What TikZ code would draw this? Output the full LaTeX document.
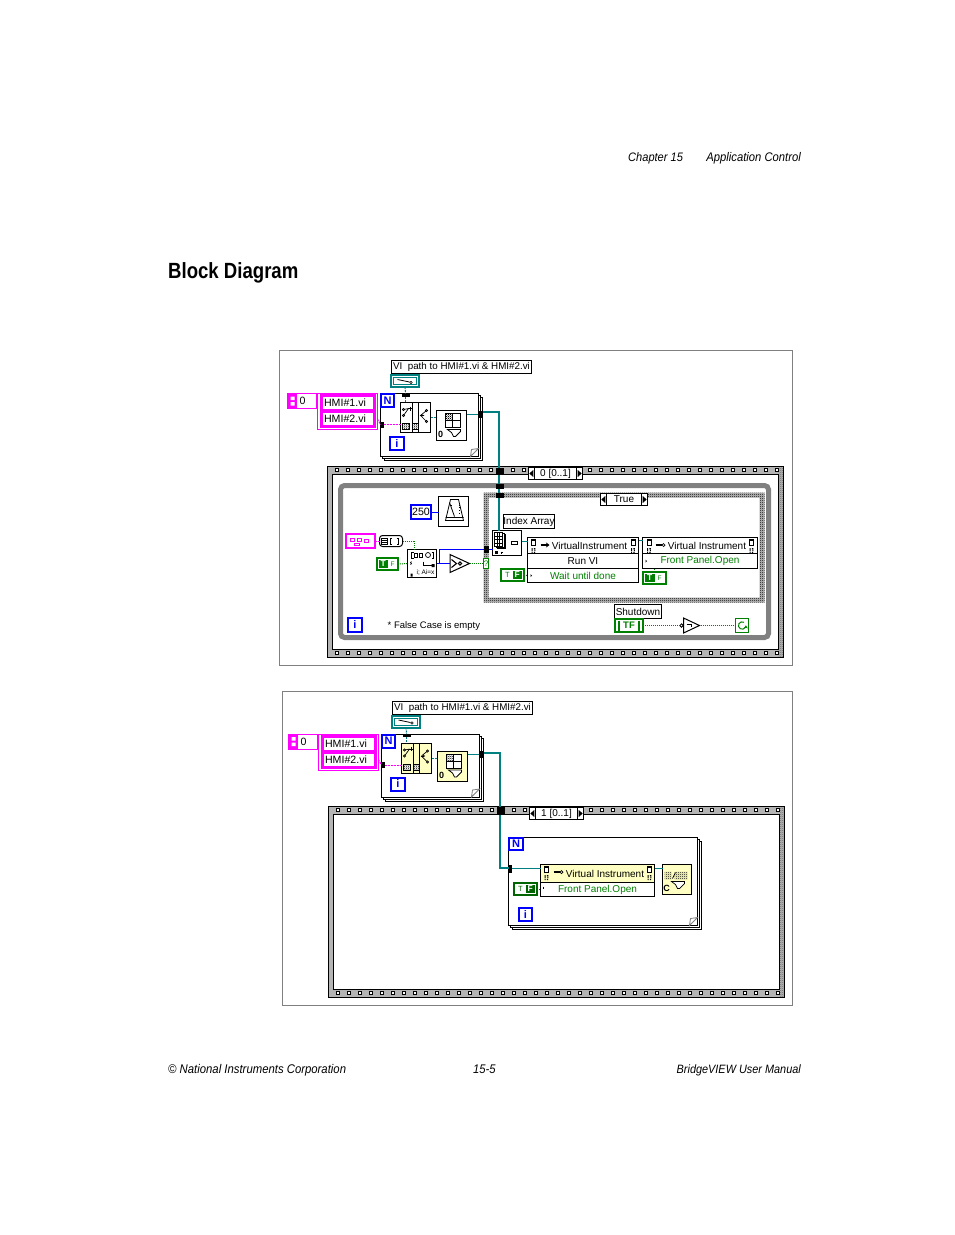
\documentclass[tikz,border=0pt]{standalone}
\usepackage{fontspec}
\setmainfont{Liberation Sans}
\newfontfamily\pagefont[FakeStretch=0.9]{Liberation Sans}
\newfontfamily\headfont[FakeStretch=0.845]{Liberation Sans}
\usetikzlibrary{patterns,arrows.meta}
\pgfdeclarepatternformonly{checker}{\pgfqpoint{0pt}{0pt}}{\pgfqpoint{2pt}{2pt}}{\pgfqpoint{2pt}{2pt}}{%
 \pgfpathrectangle{\pgfqpoint{0pt}{0pt}}{\pgfqpoint{1pt}{1pt}}%
 \pgfpathrectangle{\pgfqpoint{1pt}{1pt}}{\pgfqpoint{1pt}{1pt}}%
 \pgfusepath{fill}}
\definecolor{lvmag}{HTML}{FF00FF}
\definecolor{lvblue}{HTML}{0000FF}
\definecolor{lvteal}{HTML}{008080}
\definecolor{lvgreen}{HTML}{008000}
\definecolor{lvdark}{HTML}{006400}
\definecolor{lvgray}{HTML}{808080}
\definecolor{lvframe}{HTML}{B4B4B4}
\definecolor{lvyellow}{HTML}{FFFFC4}
\tikzset{
 lvfont/.style={font=\fontsize{10}{12}\selectfont},
 lab/.style={draw=black,fill=white,line width=1pt,lvfont},
 plain/.style={draw=black,fill=white,line width=1pt},
 hmi/.style={draw=lvmag,fill=white,line width=3pt,font=\fontsize{10.6}{12}\selectfont},
 magout/.style={draw=lvmag,fill=white,line width=1pt},
 loopb/.style={draw=black,fill=white,line width=1pt},
 termN/.style={draw=lvblue,fill=white,line width=2pt,text=lvblue,font=\bfseries\fontsize{11}{12}\selectfont},
 pagetxt/.style={inner sep=0pt,anchor=base},
 tealthick/.style={draw=lvteal,line width=2pt},
 tealthin/.style={draw=lvteal,line width=1pt},
 bluew/.style={draw=lvblue,line width=1pt},
 dotw/.style={draw=lvgreen,line width=1pt,dash pattern=on 1pt off 1pt},
 magw/.style={draw=lvmag,line width=1pt,dash pattern=on 2pt off 1pt},
 tun/.style={fill=black,draw=none},
 hollow/.style={draw=none,fill=none},
}
\newcommand{\bx}[7][]{%
 \pgfmathsetmacro{\bxw}{(#5)-(#3)}\pgfmathsetmacro{\bxh}{(#6)-(#4)}%
 \node[#1,inner sep=0pt,outer sep=0pt,minimum width=\bxw pt,minimum height=\bxh pt] (#2) at ({((#3)+(#5))/2},{((#4)+(#6))/2}) {#7};}
% film strip sequence frame
\newcommand{\seqframe}[6]{%
 \fill[lvframe] (#2,#3) rectangle (#4,#5);
 \path[pattern=checker,pattern color=black!55] ({#4-5},#3) rectangle (#4,#5);
 \draw[black,line width=1pt] (#2,#3) rectangle (#4,#5);
 \bx[plain]{#1}{#2+5}{#3+8}{#4-5}{#5-8}{}
 \foreach \k in {0,...,40}{%
  \draw[black,fill=white,line width=1pt] ({#2+8+11*\k},{#3+2}) rectangle ++(3,3);
  \draw[black,fill=white,line width=1pt] ({#2+8+11*\k},{#5-6}) rectangle ++(3,3);
 }
 \bx[lab]{#1sel}{#2+201}{#3+1}{#2+255}{#3+13}{#6}
 \fill ({#2+201.8},{#3+7}) -- ++(4,-3.5) -- ++(0,7) -- cycle;
 \fill ({#2+254.2},{#3+7}) -- ++(-4,-3.5) -- ++(0,7) -- cycle;
 \draw[line width=1pt] ({#2+207},{#3+1}) -- ++(0,12) ({#2+249},{#3+1}) -- ++(0,12);
}
% stacked for loop
\newcommand{\forloop}[5]{%
 \draw[loopb] ({#2+4},{#3+4}) rectangle ({#4+4},{#5+4});
 \draw[loopb] ({#2+2},{#3+2}) rectangle ({#4+2},{#5+2});
 \bx[loopb]{#1}{#2}{#3}{#4}{#5}{}
 \draw[lvgray,line width=.8pt,fill=white] ({#4-8},#5) -- ({#4-7},{#5-7}) -- (#4,{#5-8}) -- cycle;
}
\newcommand{\errpage}[2]{%
 \draw[line width=.6pt,fill=white] (#1,#2) rectangle ++(4,5.5);
 \fill (#1,#2) rectangle ++(4,1.6);
 \fill (#1,{#2+8.5}) rectangle ++(1.2,3) (#1,{#2+12.4}) rectangle ++(1.2,1.2);
 \fill ({#1+2.4},{#2+8.5}) rectangle ++(1.4,1.4) ({#1+2.8},{#2+10.4}) rectangle ++(1,1.2) ({#1+2.4},{#2+12.4}) rectangle ++(1.2,1.2);
}
\newcommand{\boolT}[6]{% name x1 y1 x2 y2 colour
 \bx[draw=#6,fill=white,line width=2pt]{#1}{#2}{#3}{#4}{#5}{}
 \pgfmathsetmacro{\bm}{(#2+#4)/2}
 \bx[fill=#6,text=white,font=\bfseries\fontsize{8.5}{9}\selectfont]{#1t}{#2+2}{#3+2}{\bm}{#5-2}{T}
 \node[inner sep=0pt,text=#6,font=\fontsize{6.5}{7}\selectfont] (#1f) at ({\bm+5},{(#3+#5)/2}) {F};
}
\newcommand{\boolF}[6]{%
 \bx[draw=#6,fill=white,line width=2pt]{#1}{#2}{#3}{#4}{#5}{}
 \pgfmathsetmacro{\bm}{(#2+#4)/2}
 \bx[fill=#6,text=white,font=\bfseries\fontsize{8.5}{9}\selectfont]{#1f}{\bm}{#3+2}{#4-2}{#5-2}{F}
 \node[inner sep=0pt,text=#6,font=\fontsize{7.5}{8}\selectfont] (#1t) at ({\bm-5},{(#3+#5)/2}) {T};
}
% icon: sort / split
\newcommand{\iconsplit}[4]{% name x y fill
 \bx[draw=black,fill=#4,line width=1pt]{#1}{#2}{#3}{#2+30}{#3+30}{}
 \begin{scope}[shift={(#2,#3)},line width=.7pt]
  \draw (12,0) rectangle (18,30);
  \fill[white] (2,21) rectangle (9,27) (12,21) rectangle (18,27);
  \path[pattern=checker,pattern color=black] (2,21) rectangle (9,27) (12,21) rectangle (18,27);
  \draw (2,21) rectangle (9,27) (12,21) rectangle (18,27);
  \draw (3,7) -- (8,6) (3,13) -- (8,6);
  \draw[fill=white] (3,7) circle (1.2) (3,13) circle (1.2);
  \draw[line width=1pt] (7,6) -- (11.5,6) (9.5,4) -- (9.5,8);
  \draw[line width=1pt,-{Stealth[length=3pt]}] (19,13) -- (24,13);
  \draw (20,13) -- (26,8) (20,13) -- (26,19);
  \draw[fill=white] (26,8) circle (1.2) (26,19) circle (1.2);
 \end{scope}
}
% icon: array build with funnel
\newcommand{\icongrid}[4]{%
 \bx[draw=black,fill=#4,line width=1pt]{#1}{#2}{#3}{#2+30}{#3+30}{}
 \begin{scope}[shift={(#2,#3)},line width=1pt]
  \draw[fill=white] (9,3) rectangle (24,17);
  \path[pattern=checker,pattern color=black] (9.5,3.5) rectangle (16,10);
  \draw (16,3) -- (16,17) (9,10) -- (24,10);
  \draw[fill=white,line width=.8pt] (11,19) -- (24,19) -- (24,21) -- (19,26) -- (17,26) -- (15,22) -- cycle;
  \node[inner sep=0pt,font=\bfseries\fontsize{9}{9}\selectfont] (#1z) at (4,24) {0};
 \end{scope}
}
% upper section shared by both panels
\newcommand{\toppart}[4]{% prefix dx dy fill
 \begin{scope}[shift={(#2,#3)}]
 \bx[lab,font=\fontsize{9.8}{12}\selectfont]{#1lab}{391}{360}{531}{373}{VI\ \ path to HMI\#1.vi \& HMI\#2.vi}
 \bx[draw=lvteal,fill=white,line width=2pt]{#1ref}{390.5}{374.5}{418.5}{386.5}{}
 \draw[lvteal,line width=.7pt] (393,377) rectangle (416,384);
 \draw[line width=.8pt] (397,379) -- (409,381.5);
 \draw[fill=white,line width=.6pt] (410.5,382) circle (1.2);
 \forloop{#1loop}{380}{393}{478}{456}
 \bx[magout]{#1idx}{287}{393}{316}{408}{}
 \fill[lvmag] (287.5,393.5) rectangle (296.5,407.5);
 \fill[white] (290,396) rectangle (294,399.5) (290,401.5) rectangle (294,405);
 \bx[hollow,font=\fontsize{10.6}{12}\selectfont]{#1idv}{298}{394}{315}{407}{\hspace*{-9pt}0}
 \bx[magout]{#1arr}{317}{393}{377}{429}{}
 \bx[hmi]{#1c1}{321}{395}{374}{410}{\hspace*{-6pt}HMI\#1.vi}
 \bx[hmi]{#1c2}{321}{411}{374}{426}{\hspace*{-6pt}HMI\#2.vi}
 \bx[termN]{#1N}{380.5}{393.5}{393.5}{406.5}{N}
 \bx[termN]{#1i}{389.5}{436.5}{403.5}{449.5}{i}
 \iconsplit{#1ic}{400}{402}{#4}
 \icongrid{#1ig}{436}{410}{#4}
 \bx[tun]{#1tt}{401}{393}{409}{396}{}
 \bx[tun]{#1tl}{380}{421}{383}{427}{}
 \bx[tun]{#1tr}{477}{410}{482}{417}{}
 \draw[lvteal,line width=1pt,dash pattern=on 2pt off 1pt] (#1ref.south) -- (#1tt.north);
 \draw[lvteal,line width=1pt,dash pattern=on 2pt off 1pt] (#1tt.south) -- (#1tt.south |- #1ic.north);
 \draw[magw] (#1arr.east |- #1c2.east) -- (#1tl.west);
 \draw[magw] (#1tl.east) -- (#1ic.west |- #1tl.east);
 \draw[lvteal,line width=1pt,dash pattern=on 2pt off 1pt] (#1ic.east) -- (#1ig.west |- #1ic.east);
 \draw[tealthin] (#1ig.east |- #1tr.west) -- (#1tr.west);
 \end{scope}
}
\begin{document}
\begin{tikzpicture}[x=1pt,y=-1pt]
\useasboundingbox (0,0) rectangle (954,1235);
% page text
\node[pagetxt,anchor=base west,font=\pagefont\itshape\fontsize{12.3}{14}\selectfont] (chap) at (628,161.5) {Chapter 15};
\node[pagetxt,anchor=base east,font=\pagefont\itshape\fontsize{12.5}{14}\selectfont] (appc) at (801,161.5) {Application Control};
\node[pagetxt,anchor=base west,font=\headfont\bfseries\fontsize{22}{24}\selectfont] (head) at (168,278) {Block Diagram};
\node[pagetxt,anchor=base west,font=\pagefont\itshape\fontsize{12.6}{14}\selectfont] (corp) at (168,1073.5) {© National Instruments Corporation};
\node[pagetxt,anchor=base west,font=\pagefont\itshape\fontsize{12.5}{14}\selectfont] (pnum) at (473,1073.5) {15-5};
\node[pagetxt,anchor=base east,font=\pagefont\itshape\fontsize{12.1}{14}\selectfont] (manu) at (801,1073.5) {BridgeVIEW User Manual};
\begin{scope}[shift={(.5,.5)}]
% panel frames
\bx[draw=lvgray,fill=white,line width=1pt]{panelA}{279}{350}{792}{665}{}
\bx[draw=lvgray,fill=white,line width=1pt]{panelB}{282}{691}{792}{1005}{}
% ---------- panel A
\seqframe{sqA}{327}{466}{783}{657}{0 [0..1]}
\bx[draw=lvgray,line width=5pt,rounded corners=4pt]{whl}{340}{485}{768}{637}{}
\fill[black!25,even odd rule] (483,492) rectangle (764,602) (488,497) rectangle (759,597);
\path[pattern=checker,pattern color=black,even odd rule] (483,492) rectangle (764,602) (488,497) rectangle (759,597);
\bx[hollow]{caseA}{483}{492}{764}{602}{}
\bx[lab]{casesel}{600}{493}{647}{505}{True}
\fill (600.8,499) -- ++(4,-3.5) -- ++(0,7) -- cycle;
\fill (646.2,499) -- ++(-4,-3.5) -- ++(0,7) -- cycle;
\draw[line width=1pt] (606,493) -- (606,505) (641,493) -- (641,505);
\toppart{a}{0}{0}{white}
\bx[plain]{idxA}{492}{530}{521}{555}{}
\begin{scope}[shift={(492,530)},line width=.7pt]
 \draw[fill=white] (5,4) rectangle (13,18);
 \draw[fill=white] (3.5,3) rectangle (11.5,17);
 \draw[fill=white] (2,2) rectangle (10,16);
 \draw (4.5,2) -- (4.5,16) (7.3,2) -- (7.3,16) (2,5.5) -- (10,5.5) (2,9) -- (10,9) (2,12.5) -- (10,12.5);
 \draw (19,11) rectangle (25,14);
 \fill (2,20.5) rectangle (5.5,23);
 \draw (9,21) -- (9,23) (8,22) -- (10,22);
\end{scope}
\bx[lab]{idxlab}{503}{514}{554}{528}{Index Array}
% invoke run VI
\bx[plain,lvfont]{iv1h}{527}{537}{638}{553}{\hspace*{13pt}VirtualInstrument}
\bx[plain,lvfont]{iv1r}{527}{553}{638}{568}{Run VI}
\bx[plain,lvfont,text=lvgreen]{iv1c}{527}{568}{638}{582}{Wait until done}
\errpage{531}{539}
\errpage{630.5}{539}
\draw[line width=2pt,-{Stealth[length=3.5pt,width=5pt]}] (540,544.5) -- (549,544.5);
\fill (530,573.5) -- (531.5,575) -- (530,576.5) -- cycle;
% invoke FP open
\bx[plain,lvfont]{iv2h}{642}{537}{757}{553}{\hspace*{14pt}Virtual Instrument}
\bx[plain,lvfont,text=lvgreen]{iv2r}{642}{553}{757}{568}{Front Panel.Open}
\errpage{646.5}{539}
\errpage{749}{539}
\draw[line width=2pt] (655,544.5) -- (661,544.5);
\draw[fill=white,line width=.7pt] (663,544.5) circle (1.5);
\fill (645,559) -- (646.5,560.5) -- (645,562) -- cycle;
\boolF{tfA}{500.5}{568.5}{523.5}{580.5}{lvgreen}
\boolT{tbA}{642.5}{571.5}{665.5}{583.5}{lvgreen}
\bx[lab]{sdl}{614}{604}{661}{618}{Shutdown}
\bx[draw=lvgreen,fill=white,line width=2pt,text=lvgreen,font=\bfseries\fontsize{9.5}{10}\selectfont]{sdc}{614.5}{618.5}{642.5}{631.5}{TF}
\draw[lvgreen,line width=2pt] (618.5,620) -- (618.5,630) (638.5,620) -- (638.5,630);
\bx[hollow]{notg}{680}{617}{700}{633}{}
\draw[line width=1pt,fill=white] (683,617.5) -- (699,625) -- (683,632.5) -- cycle;
\draw[line width=.8pt,fill=white] (681,625) circle (1.7);
\draw[line width=.8pt] (686,623.5) -- (691,623.5) -- (691,626);
\bx[draw=lvgreen,fill=white,line width=1pt]{stopA}{735}{618}{748}{632}{}
\draw[lvgreen,line width=1pt,-{Stealth[length=3pt,width=4pt]}] (743.5,621.8) arc[start angle=-60,end angle=-360,radius=3.7];
\bx[termN]{iA}{347.5}{617.5}{361.5}{631.5}{i}
\node[inner sep=0pt,anchor=base west,font=\fontsize{9.5}{11}\selectfont] (note) at (387,627.5) {* False Case is empty};
\bx[draw=lvblue,fill=white,line width=2pt,font=\fontsize{10.6}{12}\selectfont]{n250}{410.5}{504.5}{430.5}{518.5}{250}
\bx[plain]{metro}{438}{496}{468}{526}{}
\begin{scope}[shift={(438,496)},line width=.8pt]
 \draw[fill=white] (12,3) -- (20,3) -- (25,24) -- (7,24) -- cycle;
 \draw (7,21) -- (25,21) (16,20) -- (11,6);
 \draw[line width=1.6pt] (11,9) -- (13,9);
 \draw[dotted] (21,8) -- (21,18);
\end{scope}
\bx[draw=lvmag,fill=white,line width=2pt]{clA}{345.5}{533.5}{374.5}{547.5}{}
\draw[lvmag,line width=1.6pt] (350,538) rectangle (354,541) (357,538) rectangle (361,541) (354,543) rectangle (359,545) (364,539) rectangle (368,542);
\bx[draw=black,fill=white,line width=1pt,rounded corners=3pt]{unb}{379}{535}{402}{546}{}
\draw[line width=.7pt] (381,537.5) rectangle (387,543.5) (381,539.5) -- (387,539.5) (381,541.5) -- (387,541.5);
\draw[line width=.8pt] (391,537.5) -- (389.5,537.5) -- (389.5,543.5) -- (391,543.5) (396,537.5) -- (397.5,537.5) -- (397.5,543.5) -- (396,543.5);
\boolT{tcA}{376.5}{557.5}{397.5}{569.5}{lvgreen}
\bx[plain]{srch}{407}{549}{436}{577}{}
\begin{scope}[shift={(407,549)},line width=.7pt]
 \draw[line width=1pt] (6,2.5) -- (4,2.5) -- (4,9) -- (6,9) (24,2.5) -- (26,2.5) -- (26,9) -- (24,9);
 \draw (7,4) rectangle (10,7.5) (12,4) rectangle (15,7.5);
 \draw (20.5,5.5) circle (2.5);
 \draw (16,12) -- (16,16) -- (24,16);
 \fill (24,14.5) rectangle (27,17.5) (3,24) rectangle (5,27);
 \draw (4,12) -- (3,13) -- (4,14) -- (3,15);
 \node[inner sep=0pt,font=\fontsize{6.5}{7}\selectfont] (srchtx) at (18,23) {i; Ai=x};
\end{scope}
\bx[hollow]{cmp}{449}{553}{469}{573}{}
\draw[line width=1pt,fill=white] (449.5,554) -- (469,563) -- (449.5,572) -- cycle;
\draw[line width=1.1pt] (451,559) -- (456,563) -- (451,567);
\draw[line width=1.1pt] (459.5,563) circle (1.7);
\bx[draw=lvgreen,fill=white,line width=1pt,text=lvgreen,font=\fontsize{8}{8}\selectfont]{selq}{483}{558}{488}{568}{?}
\bx[tun]{btun}{483.5}{545}{488.5}{552}{}
% wires panel A
\coordinate (bj) at (439,563);
\coordinate (sj) at (414,549);
\coordinate (ij) at (527,541);
\coordinate (ik) at (642,540);
\draw[bluew] (n250.east) -- (metro.west |- n250.east);
\draw[bluew] (srch.east) -- (cmp.west);
\draw[bluew] (bj) |- (btun.west);
\draw[bluew] (btun.east) -- (idxA.west |- btun.east);
\draw[dotw] (cmp.east) -- (selq.west);
\draw[dotw] (unb.east) -| (sj);
\draw[dotw] (tcA.east) -- (srch.west);
\draw[magw] (clA.east) -- (unb.west);
\draw[tealthin] (idxA.east |- ij) -- (ij);
\draw[tealthin] (iv1h.east |- ik) -- (ik);
\draw[dotw,draw=black!70] (tfA.east) -- (iv1c.west);
\draw[dotw] (tbA.north) -- (tbA.north |- iv2r.south);
\draw[dotw] (sdc.east) -- (notg.west);
\draw[dotw] (notg.east) -- (stopA.west);
% ---------- panel B
\seqframe{sqB}{328}{806}{784}{997}{1 [0..1]}
\toppart{b}{1}{340.5}{lvyellow}
\forloop{lpB}{508}{837}{697}{925}
\bx[termN,fill=white]{NB}{508.5}{837.5}{522.5}{849.5}{N}
\coordinate (wb1) at (499.5,752.5);
\coordinate (wb2) at (499.5,867.5);
\bx[tun]{tB2}{508}{864}{511}{872}{}
\draw[tealthick] (btr.center |- wb1) -- (wb1) -- (wb2) -- (tB2.west |- wb2);
\bx[tun]{tB1}{496}{806}{504}{814}{}
\bx[tun]{btrb}{478}{750.5}{483}{757.5}{}
\bx[plain,lvfont,fill=lvyellow]{ivBh}{540}{864}{654}{882}{\hspace*{15pt}Virtual Instrument}
\bx[plain,lvfont,text=lvgreen]{ivBr}{540}{882}{654}{896}{Front Panel.Open}
\errpage{544}{866}
\errpage{647}{866}
\draw[line width=2pt] (553,871.5) -- (559,871.5);
\draw[fill=white,line width=.7pt] (561,871.5) circle (1.5);
\draw[line width=1pt] (543,886) -- (543,888);
\boolF{tfB}{513.5}{882.5}{536.5}{894.5}{lvdark}
\bx[termN]{iB}{518.5}{907.5}{531.5}{920.5}{i}
\bx[draw=black,fill=lvyellow,line width=1pt]{icC}{662}{864}{691}{894}{}
\begin{scope}[shift={(662,864)},line width=.7pt]
 \path[pattern=checker,pattern color=black] (2,7) rectangle (9,15) (12,7) rectangle (25,15);
 \draw (10,14) -- (13,8);
 \draw[fill=white] (9,17) -- (22,17) -- (22,19) -- (17,24) -- (15,24) -- (13,20) -- cycle;
 \node[inner sep=0pt,font=\bfseries\fontsize{9}{9}\selectfont] (icCc) at (4,24) {C};
\end{scope}
\coordinate (jb) at (540,868);
\draw[tealthin] (tB2.east |- jb) -- (jb);
\draw[tealthin] (ivBh.east |- jb) -- (icC.west |- jb);
\draw[dotw,draw=lvdark] (tfB.east) -- (ivBr.west |- tfB.east);
% main teal wire of panel A
\coordinate (wa1) at (498.5,411.5);
\coordinate (wa2) at (498.5,530);
\draw[tealthick] (atr.center |- wa1) -- (wa1) -- (wa2);
\bx[tun]{tA1}{495}{467}{503}{474}{}
\bx[tun]{tA2}{495}{483}{503}{488}{}
\bx[tun]{tA3}{495}{492}{503}{497}{}
\bx[tun]{atrb}{477}{410}{482}{417}{}
\end{scope}
\end{tikzpicture}
\end{document}
